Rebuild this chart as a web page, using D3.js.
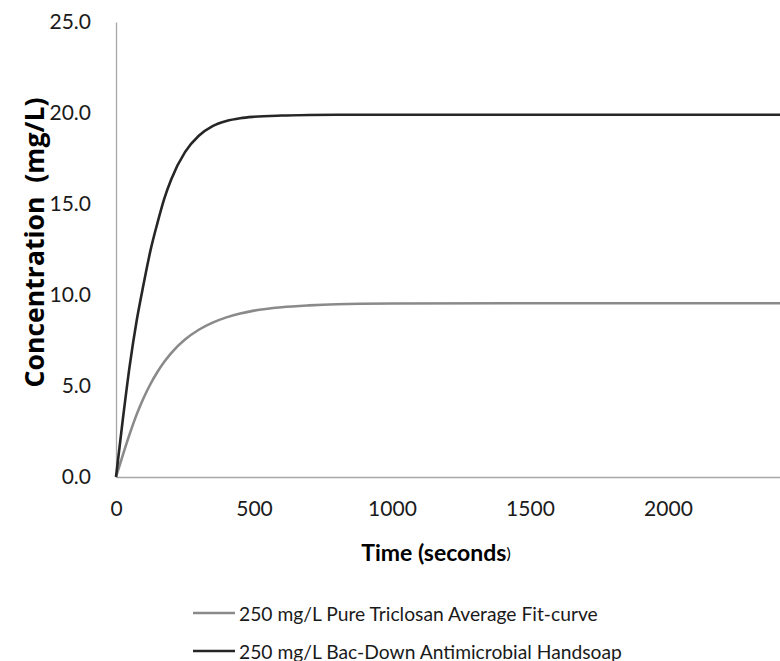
<!DOCTYPE html>
<html>
<head>
<meta charset="utf-8">
<script src="https://cdn.jsdelivr.net/npm/d3@7"></script>
<style>
  html, body { margin: 0; padding: 0; background: #ffffff; }
  svg { display: block; font-family: Lato, "Open Sans", sans-serif; }
</style>
</head>
<body>
<svg id="chart" width="780" height="661"></svg>
<script>
// Sampled time points (seconds) shared by both fit curves
const timeSeconds = [0, 25, 50, 75, 100, 125, 150, 175, 200, 250, 300, 350, 400, 450, 500, 600, 700, 800, 1000, 1500, 2000, 2406];
// Concentration (mg/L) for each series at those times
const triclosanFit = [0, 1.22, 2.38, 3.44, 4.34, 5.11, 5.77, 6.33, 6.81, 7.55, 8.09, 8.48, 8.77, 8.98, 9.14, 9.33, 9.43, 9.49, 9.53, 9.55, 9.55, 9.55];
const bacDownSoap = [0, 3.2, 6.15, 8.6, 10.6, 12.45, 13.95, 15.3, 16.35, 17.85, 18.75, 19.28, 19.56, 19.71, 19.79, 19.86, 19.89, 19.9, 19.9, 19.9, 19.9, 19.9];
const seriesNames = ["250 mg/L Pure Triclosan Average Fit-curve", "250 mg/L Bac-Down Antimicrobial Handsoap"];
const seriesColors = ["#8a8a8a", "#262626"];
const xTicks = [0, 500, 1000, 1500, 2000];
const yTicks = [0, 5, 10, 15, 20, 25];

const svg = d3.select("#chart");

const x = d3.scaleLinear().domain([0, 2406]).range([116, 780]);
const y = d3.scaleLinear().domain([0, 25]).range([477, 22]);

const axisColor = "#a6a6a6";

// Resize a text node so its rendered width equals the given span
function fitWidth(sel, width) {
  const node = sel.node();
  const base = parseFloat(sel.attr("font-size"));
  const w = node.getComputedTextLength();
  if (w > 0) sel.attr("font-size", (base * width / w).toFixed(2));
}

// Y axis: line plus labels with one decimal
const yAxis = svg.append("g")
  .attr("transform", `translate(${x(0)},0)`)
  .call(d3.axisLeft(y).tickValues(yTicks).tickSize(0).tickPadding(25).tickFormat(d3.format(".1f")));
yAxis.select(".domain").attr("stroke", axisColor).attr("stroke-width", 1.3);
yAxis.selectAll("text").attr("font-size", 21).attr("fill", "#1a1a1a").attr("font-family", "Lato, sans-serif");

// X axis
const xAxis = svg.append("g")
  .attr("transform", `translate(0,${y(0)})`)
  .call(d3.axisBottom(x).tickValues(xTicks).tickSize(0).tickPadding(24).tickFormat(d3.format("d")));
xAxis.select(".domain").attr("stroke", axisColor).attr("stroke-width", 1.6);
xAxis.selectAll("text").attr("font-size", 21).attr("fill", "#1a1a1a").attr("font-family", "Lato, sans-serif");

// Axis titles
const yt = svg.append("text")
  .attr("transform", "translate(34,242.5) rotate(-90)")
  .attr("text-anchor", "middle")
  .attr("dominant-baseline", "central")
  .attr("font-family", "'Open Sans', sans-serif")
  .attr("font-size", 24)
  .attr("font-weight", "bold")
  .attr("fill", "#000")
  .style("white-space", "pre")
  .text("Concentration  (mg/L)");
fitWidth(yt, 290);

const xt = svg.append("text")
  .attr("x", 436)
  .attr("y", 552)
  .attr("text-anchor", "middle")
  .attr("dominant-baseline", "central")
  .attr("font-size", 23)
  .attr("font-weight", "bold")
  .attr("fill", "#000");
xt.append("tspan").text("Time (seconds");
xt.append("tspan").attr("font-size", 16).attr("font-weight", "normal").text(")");

// Curves
const line = d3.line()
  .x(d => x(d[0]))
  .y(d => y(d[1]))
  .curve(d3.curveMonotoneX);

const seriesValues = [triclosanFit, bacDownSoap];
seriesValues.forEach((vals, i) => {
  svg.append("path")
    .datum(timeSeconds.map((t, j) => [t, vals[j]]))
    .attr("fill", "none")
    .attr("stroke", seriesColors[i])
    .attr("stroke-width", 2.6)
    .attr("stroke-linejoin", "round")
    .attr("d", line);
});

// Legend
const legend = svg.append("g");
seriesNames.forEach((name, i) => {
  const ly = 613 + i * 38;
  legend.append("line")
    .attr("x1", 193).attr("x2", 235)
    .attr("y1", ly).attr("y2", ly)
    .attr("stroke", seriesColors[i])
    .attr("stroke-width", 2.6);
  const t = legend.append("text")
    .attr("x", 239)
    .attr("y", ly)
    .attr("dominant-baseline", "central")
    .attr("font-size", 18.5)
    .attr("fill", "#1a1a1a")
    .text(name);
  if (i === 0) fitWidth(t, 359);
  else t.attr("font-size", legend.select("text").attr("font-size"));
});
</script>
</body>
</html>
